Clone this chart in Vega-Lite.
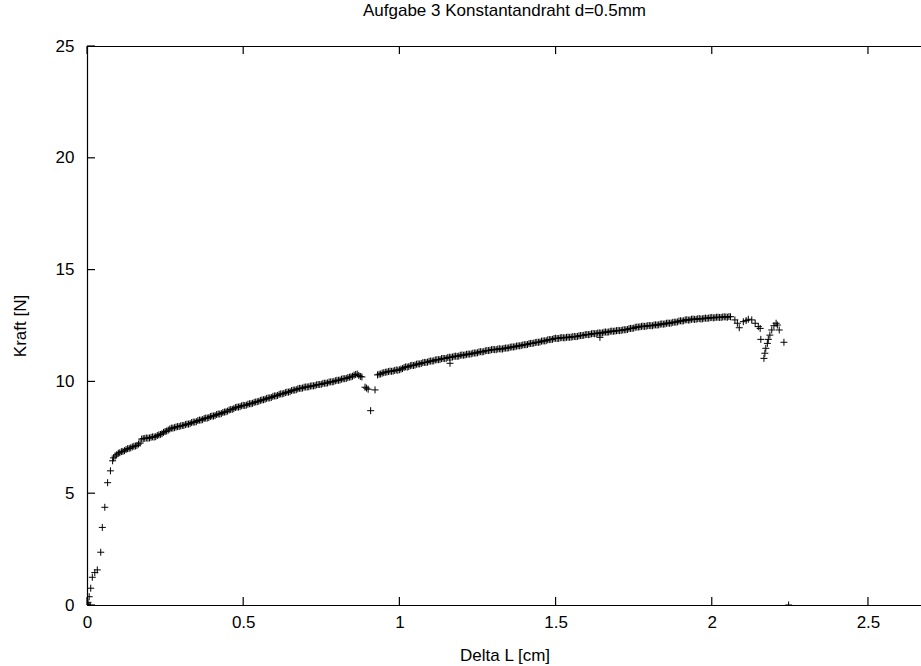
{
  "$schema": "https://vega.github.io/schema/vega-lite/v6.json",
  "autosize": "none",
  "width": 835,
  "height": 559,
  "padding": {"left": 87, "top": 46, "right": 0, "bottom": 61},
  "background": "white",
  "config": {
    "view": {"stroke": null},
    "font": "Liberation Sans",
    "axis": {"grid": false, "domainColor": "black", "domainWidth": 1.2, "labelColor": "black", "titleColor": "black", "labelFont": "Liberation Sans", "titleFont": "Liberation Sans", "labelFontSize": 17, "titleFontSize": 17, "titleFontWeight": "normal"}
  },
  "title": {"text": "Aufgabe 3 Konstantandraht d=0.5mm", "font": "Liberation Sans", "fontSize": 17, "fontWeight": "normal", "color": "black", "anchor": "middle", "offset": 17},
  "layer": [
    {
      "data": {"values": [
    {"dl":0.0,"f":0.0},{"dl":0.001,"f":0.03},{"dl":0.002,"f":0.08},{"dl":0.003,"f":0.12},{"dl":0.007,"f":0.37},{"dl":0.012,"f":0.75},{"dl":0.017,"f":1.24},{"dl":0.025,"f":1.45},{"dl":0.033,"f":1.57},{"dl":0.044,"f":2.36},{"dl":0.049,"f":3.47},{"dl":0.057,"f":4.37},{"dl":0.066,"f":5.47},{"dl":0.075,"f":6.0},{"dl":0.082,"f":6.45},
    {"dl":0.085,"f":6.58},{"dl":0.09,"f":6.66},{"dl":0.095,"f":6.72},{"dl":0.10,"f":6.79},{"dl":0.105,"f":6.81},{"dl":0.11,"f":6.86},{"dl":0.115,"f":6.87},{"dl":0.12,"f":6.90},{"dl":0.125,"f":6.95},{"dl":0.13,"f":6.99},{"dl":0.135,"f":7.00},{"dl":0.14,"f":7.03},{"dl":0.145,"f":7.07},{"dl":0.15,"f":7.10},{"dl":0.155,"f":7.11},{"dl":0.16,"f":7.14},{"dl":0.165,"f":7.20},{"dl":0.17,"f":7.24},{"dl":0.175,"f":7.42},{"dl":0.18,"f":7.44},{"dl":0.185,"f":7.45},{"dl":0.19,"f":7.47},{"dl":0.195,"f":7.46},{"dl":0.20,"f":7.47},
    {"dl":0.205,"f":7.50},{"dl":0.21,"f":7.52},{"dl":0.215,"f":7.51},{"dl":0.22,"f":7.53},{"dl":0.225,"f":7.58},{"dl":0.23,"f":7.61},{"dl":0.235,"f":7.63},{"dl":0.24,"f":7.66},{"dl":0.245,"f":7.72},{"dl":0.25,"f":7.76},{"dl":0.255,"f":7.78},{"dl":0.26,"f":7.82},{"dl":0.265,"f":7.87},{"dl":0.27,"f":7.91},{"dl":0.275,"f":7.91},{"dl":0.28,"f":7.93},{"dl":0.285,"f":7.96},{"dl":0.29,"f":7.98},{"dl":0.295,"f":7.98},{"dl":0.30,"f":8.01},
    {"dl":0.305,"f":8.03},{"dl":0.31,"f":8.03},{"dl":0.315,"f":8.07},{"dl":0.32,"f":8.09},{"dl":0.325,"f":8.09},{"dl":0.33,"f":8.11},{"dl":0.335,"f":8.16},{"dl":0.34,"f":8.18},{"dl":0.345,"f":8.18},{"dl":0.35,"f":8.20},{"dl":0.355,"f":8.25},{"dl":0.36,"f":8.27},{"dl":0.365,"f":8.27},{"dl":0.37,"f":8.29},{"dl":0.375,"f":8.34},{"dl":0.38,"f":8.36},{"dl":0.385,"f":8.36},{"dl":0.39,"f":8.38},{"dl":0.395,"f":8.43},{"dl":0.40,"f":8.45},
    {"dl":0.405,"f":8.45},{"dl":0.41,"f":8.47},{"dl":0.415,"f":8.52},{"dl":0.42,"f":8.54},{"dl":0.425,"f":8.54},{"dl":0.43,"f":8.56},{"dl":0.435,"f":8.61},{"dl":0.44,"f":8.63},{"dl":0.445,"f":8.64},{"dl":0.45,"f":8.67},{"dl":0.455,"f":8.72},{"dl":0.46,"f":8.74},{"dl":0.465,"f":8.75},{"dl":0.47,"f":8.78},{"dl":0.475,"f":8.83},{"dl":0.48,"f":8.85},{"dl":0.485,"f":8.85},{"dl":0.49,"f":8.87},{"dl":0.495,"f":8.91},{"dl":0.50,"f":8.93},
    {"dl":0.505,"f":8.92},{"dl":0.51,"f":8.94},{"dl":0.515,"f":8.98},{"dl":0.52,"f":9.00},{"dl":0.525,"f":9.00},{"dl":0.53,"f":9.02},{"dl":0.535,"f":9.06},{"dl":0.54,"f":9.08},{"dl":0.545,"f":9.09},{"dl":0.55,"f":9.11},{"dl":0.555,"f":9.15},{"dl":0.56,"f":9.17},{"dl":0.565,"f":9.18},{"dl":0.57,"f":9.20},{"dl":0.575,"f":9.24},{"dl":0.58,"f":9.26},{"dl":0.585,"f":9.26},{"dl":0.59,"f":9.28},{"dl":0.595,"f":9.33},{"dl":0.60,"f":9.35},
    {"dl":0.605,"f":9.35},{"dl":0.61,"f":9.37},{"dl":0.615,"f":9.42},{"dl":0.62,"f":9.44},{"dl":0.625,"f":9.44},{"dl":0.63,"f":9.46},{"dl":0.635,"f":9.50},{"dl":0.64,"f":9.52},{"dl":0.645,"f":9.52},{"dl":0.65,"f":9.54},{"dl":0.655,"f":9.59},{"dl":0.66,"f":9.61},{"dl":0.665,"f":9.61},{"dl":0.67,"f":9.63},{"dl":0.675,"f":9.67},{"dl":0.68,"f":9.69},{"dl":0.685,"f":9.69},{"dl":0.69,"f":9.70},{"dl":0.695,"f":9.74},{"dl":0.70,"f":9.75},
    {"dl":0.705,"f":9.75},{"dl":0.71,"f":9.76},{"dl":0.715,"f":9.79},{"dl":0.72,"f":9.80},{"dl":0.725,"f":9.80},{"dl":0.73,"f":9.81},{"dl":0.735,"f":9.85},{"dl":0.74,"f":9.86},{"dl":0.745,"f":9.86},{"dl":0.75,"f":9.87},{"dl":0.755,"f":9.91},{"dl":0.76,"f":9.92},{"dl":0.765,"f":9.92},{"dl":0.77,"f":9.93},{"dl":0.775,"f":9.97},{"dl":0.78,"f":9.98},{"dl":0.785,"f":9.98},{"dl":0.79,"f":9.99},{"dl":0.795,"f":10.03},{"dl":0.80,"f":10.05},
    {"dl":0.805,"f":10.05},{"dl":0.81,"f":10.06},{"dl":0.815,"f":10.10},{"dl":0.82,"f":10.12},{"dl":0.825,"f":10.12},{"dl":0.83,"f":10.13},{"dl":0.835,"f":10.17},{"dl":0.84,"f":10.19},{"dl":0.845,"f":10.20},{"dl":0.85,"f":10.23},{"dl":0.855,"f":10.28},{"dl":0.86,"f":10.31},{"dl":0.865,"f":10.33},{"dl":0.87,"f":10.27},{"dl":0.875,"f":10.22},{"dl":0.88,"f":10.20},{"dl":0.89,"f":9.74},{"dl":0.895,"f":9.70},{"dl":0.90,"f":9.65},
    {"dl":0.908,"f":8.69},{"dl":0.922,"f":9.62},{"dl":0.93,"f":10.29},{"dl":0.935,"f":10.32},{"dl":0.94,"f":10.33},{"dl":0.945,"f":10.37},{"dl":0.95,"f":10.39},{"dl":0.955,"f":10.41},{"dl":0.96,"f":10.42},{"dl":0.965,"f":10.44},{"dl":0.97,"f":10.46},{"dl":0.975,"f":10.45},{"dl":0.98,"f":10.46},{"dl":0.985,"f":10.49},{"dl":0.99,"f":10.51},{"dl":0.995,"f":10.50},{"dl":1.00,"f":10.52},
    {"dl":1.005,"f":10.55},{"dl":1.01,"f":10.57},{"dl":1.015,"f":10.62},{"dl":1.02,"f":10.65},{"dl":1.025,"f":10.64},{"dl":1.03,"f":10.66},{"dl":1.035,"f":10.70},{"dl":1.04,"f":10.72},{"dl":1.045,"f":10.71},{"dl":1.05,"f":10.73},{"dl":1.055,"f":10.77},{"dl":1.06,"f":10.78},{"dl":1.065,"f":10.78},{"dl":1.07,"f":10.80},{"dl":1.075,"f":10.84},{"dl":1.08,"f":10.85},{"dl":1.085,"f":10.85},{"dl":1.09,"f":10.86},{"dl":1.095,"f":10.90},{"dl":1.10,"f":10.91},
    {"dl":1.105,"f":10.91},{"dl":1.11,"f":10.92},{"dl":1.115,"f":10.96},{"dl":1.12,"f":10.97},{"dl":1.125,"f":10.97},{"dl":1.13,"f":10.98},{"dl":1.135,"f":11.02},{"dl":1.14,"f":11.03},{"dl":1.145,"f":11.02},{"dl":1.15,"f":11.03},{"dl":1.155,"f":11.07},{"dl":1.16,"f":11.08},{"dl":1.162,"f":10.81},{"dl":1.165,"f":11.08},{"dl":1.17,"f":11.09},{"dl":1.175,"f":11.12},{"dl":1.18,"f":11.13},{"dl":1.185,"f":11.12},{"dl":1.19,"f":11.13},{"dl":1.195,"f":11.17},{"dl":1.20,"f":11.18},
    {"dl":1.205,"f":11.17},{"dl":1.21,"f":11.18},{"dl":1.215,"f":11.21},{"dl":1.22,"f":11.22},{"dl":1.225,"f":11.22},{"dl":1.23,"f":11.23},{"dl":1.235,"f":11.26},{"dl":1.24,"f":11.27},{"dl":1.245,"f":11.27},{"dl":1.25,"f":11.28},{"dl":1.255,"f":11.32},{"dl":1.26,"f":11.33},{"dl":1.265,"f":11.32},{"dl":1.27,"f":11.33},{"dl":1.275,"f":11.37},{"dl":1.28,"f":11.38},{"dl":1.285,"f":11.38},{"dl":1.29,"f":11.39},{"dl":1.295,"f":11.42},{"dl":1.30,"f":11.43},
    {"dl":1.305,"f":11.42},{"dl":1.31,"f":11.42},{"dl":1.315,"f":11.45},{"dl":1.32,"f":11.46},{"dl":1.325,"f":11.45},{"dl":1.33,"f":11.45},{"dl":1.335,"f":11.48},{"dl":1.34,"f":11.49},{"dl":1.345,"f":11.49},{"dl":1.35,"f":11.50},{"dl":1.355,"f":11.53},{"dl":1.36,"f":11.54},{"dl":1.365,"f":11.54},{"dl":1.37,"f":11.55},{"dl":1.375,"f":11.58},{"dl":1.38,"f":11.59},{"dl":1.385,"f":11.59},{"dl":1.39,"f":11.60},{"dl":1.395,"f":11.63},{"dl":1.40,"f":11.64},
    {"dl":1.405,"f":11.64},{"dl":1.41,"f":11.65},{"dl":1.415,"f":11.69},{"dl":1.42,"f":11.70},{"dl":1.425,"f":11.70},{"dl":1.43,"f":11.71},{"dl":1.435,"f":11.74},{"dl":1.44,"f":11.75},{"dl":1.445,"f":11.75},{"dl":1.45,"f":11.76},{"dl":1.455,"f":11.80},{"dl":1.46,"f":11.81},{"dl":1.465,"f":11.81},{"dl":1.47,"f":11.82},{"dl":1.475,"f":11.86},{"dl":1.48,"f":11.87},{"dl":1.485,"f":11.87},{"dl":1.49,"f":11.88},{"dl":1.495,"f":11.92},{"dl":1.50,"f":11.93},
    {"dl":1.505,"f":11.92},{"dl":1.51,"f":11.92},{"dl":1.515,"f":11.95},{"dl":1.52,"f":11.96},{"dl":1.525,"f":11.95},{"dl":1.53,"f":11.95},{"dl":1.535,"f":11.97},{"dl":1.54,"f":11.98},{"dl":1.545,"f":11.97},{"dl":1.55,"f":11.98},{"dl":1.555,"f":12.00},{"dl":1.56,"f":12.01},{"dl":1.565,"f":12.00},{"dl":1.57,"f":12.01},{"dl":1.575,"f":12.04},{"dl":1.58,"f":12.05},{"dl":1.585,"f":12.05},{"dl":1.59,"f":12.06},{"dl":1.595,"f":12.09},{"dl":1.60,"f":12.10},
    {"dl":1.605,"f":12.09},{"dl":1.61,"f":12.10},{"dl":1.615,"f":12.13},{"dl":1.62,"f":12.14},{"dl":1.625,"f":12.13},{"dl":1.63,"f":12.14},{"dl":1.635,"f":12.16},{"dl":1.642,"f":11.97},{"dl":1.64,"f":12.17},{"dl":1.645,"f":12.16},{"dl":1.65,"f":12.17},{"dl":1.655,"f":12.20},{"dl":1.66,"f":12.21},{"dl":1.665,"f":12.20},{"dl":1.67,"f":12.21},{"dl":1.675,"f":12.24},{"dl":1.68,"f":12.25},{"dl":1.685,"f":12.24},{"dl":1.69,"f":12.25},{"dl":1.695,"f":12.27},{"dl":1.70,"f":12.28},
    {"dl":1.705,"f":12.27},{"dl":1.71,"f":12.28},{"dl":1.715,"f":12.30},{"dl":1.72,"f":12.31},{"dl":1.725,"f":12.31},{"dl":1.73,"f":12.32},{"dl":1.735,"f":12.36},{"dl":1.74,"f":12.37},{"dl":1.745,"f":12.37},{"dl":1.75,"f":12.38},{"dl":1.755,"f":12.42},{"dl":1.76,"f":12.43},{"dl":1.765,"f":12.43},{"dl":1.77,"f":12.44},{"dl":1.775,"f":12.46},{"dl":1.78,"f":12.47},{"dl":1.785,"f":12.46},{"dl":1.79,"f":12.47},{"dl":1.795,"f":12.49},{"dl":1.80,"f":12.50},
    {"dl":1.805,"f":12.49},{"dl":1.81,"f":12.49},{"dl":1.815,"f":12.52},{"dl":1.82,"f":12.53},{"dl":1.825,"f":12.52},{"dl":1.83,"f":12.53},{"dl":1.835,"f":12.56},{"dl":1.84,"f":12.57},{"dl":1.845,"f":12.56},{"dl":1.85,"f":12.57},{"dl":1.855,"f":12.60},{"dl":1.86,"f":12.61},{"dl":1.865,"f":12.60},{"dl":1.87,"f":12.61},{"dl":1.875,"f":12.64},{"dl":1.88,"f":12.65},{"dl":1.885,"f":12.65},{"dl":1.89,"f":12.66},{"dl":1.895,"f":12.70},{"dl":1.90,"f":12.71},
    {"dl":1.905,"f":12.70},{"dl":1.91,"f":12.71},{"dl":1.915,"f":12.75},{"dl":1.92,"f":12.76},{"dl":1.925,"f":12.74},{"dl":1.93,"f":12.75},{"dl":1.935,"f":12.78},{"dl":1.94,"f":12.79},{"dl":1.945,"f":12.77},{"dl":1.95,"f":12.78},{"dl":1.955,"f":12.80},{"dl":1.96,"f":12.81},{"dl":1.965,"f":12.79},{"dl":1.97,"f":12.80},{"dl":1.975,"f":12.82},{"dl":1.98,"f":12.83},{"dl":1.985,"f":12.82},{"dl":1.99,"f":12.83},{"dl":1.995,"f":12.85},{"dl":2.00,"f":12.86},
    {"dl":2.005,"f":12.84},{"dl":2.01,"f":12.85},{"dl":2.015,"f":12.87},{"dl":2.02,"f":12.87},{"dl":2.025,"f":12.86},{"dl":2.03,"f":12.86},{"dl":2.035,"f":12.88},{"dl":2.04,"f":12.89},{"dl":2.045,"f":12.88},{"dl":2.05,"f":12.87},{"dl":2.055,"f":12.90},{"dl":2.06,"f":12.89},
    {"dl":2.074,"f":12.75},{"dl":2.082,"f":12.60},{"dl":2.088,"f":12.40},{"dl":2.101,"f":12.67},{"dl":2.11,"f":12.72},{"dl":2.117,"f":12.78},{"dl":2.128,"f":12.75},{"dl":2.139,"f":12.60},{"dl":2.149,"f":12.45},{"dl":2.155,"f":12.37},
    {"dl":2.157,"f":11.88},{"dl":2.167,"f":11.03},{"dl":2.170,"f":11.26},{"dl":2.173,"f":11.48},{"dl":2.178,"f":11.70},{"dl":2.181,"f":11.88},{"dl":2.186,"f":12.07},{"dl":2.192,"f":12.30},{"dl":2.199,"f":12.49},{"dl":2.206,"f":12.60},
    {"dl":2.210,"f":12.52},{"dl":2.216,"f":12.30},{"dl":2.231,"f":11.75},{"dl":2.246,"f":0.0}
      ]},
      "mark": {"type": "point", "shape": "M-1,0H1M0,-1V1", "filled": false, "size": 49, "stroke": "black", "strokeWidth": 1, "opacity": 1, "clip": true},
      "encoding": {
        "x": {"field": "dl", "type": "quantitative", "scale": {"domain": [0, 2.673], "nice": false, "zero": false},
              "axis": {"orient": "bottom", "title": "Delta L [cm]", "values": [0, 0.5, 1, 1.5, 2, 2.5], "labelExpr": "'' + datum.value", "ticks": false, "labelPadding": 9, "titlePadding": 17, "labelFlush": false}},
        "y": {"field": "f", "type": "quantitative", "scale": {"domain": [0, 25], "nice": false, "zero": false},
              "axis": {"title": "Kraft [N]", "values": [0, 5, 10, 15, 20, 25], "ticks": false, "labelPadding": 13, "titlePadding": 26, "labelFlush": false}}
      }
    },
    {
      "data": {"values": [{"f": 0}]},
      "mark": {"type": "point", "opacity": 0},
      "encoding": {
        "x": {"field": "f", "type": "quantitative", "axis": {"orient": "top", "title": null, "labels": false, "domain": true, "ticks": false}},
        "y": {"field": "f", "type": "quantitative", "axis": null}
      }
    },
    {
      "data": {"values": [{"t": 0}, {"t": 0.5}, {"t": 1}, {"t": 1.5}, {"t": 2}, {"t": 2.5}]},
      "mark": {"type": "rule", "stroke": "black", "strokeWidth": 1.2},
      "encoding": {
        "x": {"field": "t", "type": "quantitative", "axis": null},
        "y": {"datum": 0, "axis": null},
        "y2": {"datum": 0.36}
      }
    },
    {
      "data": {"values": [{"t": 0}, {"t": 0.5}, {"t": 1}, {"t": 1.5}, {"t": 2}, {"t": 2.5}]},
      "mark": {"type": "rule", "stroke": "black", "strokeWidth": 1.2},
      "encoding": {
        "x": {"field": "t", "type": "quantitative", "axis": null},
        "y": {"datum": 24.64, "axis": null},
        "y2": {"datum": 25}
      }
    },
    {
      "data": {"values": [{"v": 0}, {"v": 5}, {"v": 10}, {"v": 15}, {"v": 20}, {"v": 25}]},
      "mark": {"type": "rule", "stroke": "black", "strokeWidth": 1.2},
      "encoding": {
        "y": {"field": "v", "type": "quantitative", "axis": null},
        "x": {"datum": 0, "axis": null},
        "x2": {"datum": 0.0256}
      }
    }
  ],
  "resolve": {"axis": {"x": "independent", "y": "independent"}}
}
